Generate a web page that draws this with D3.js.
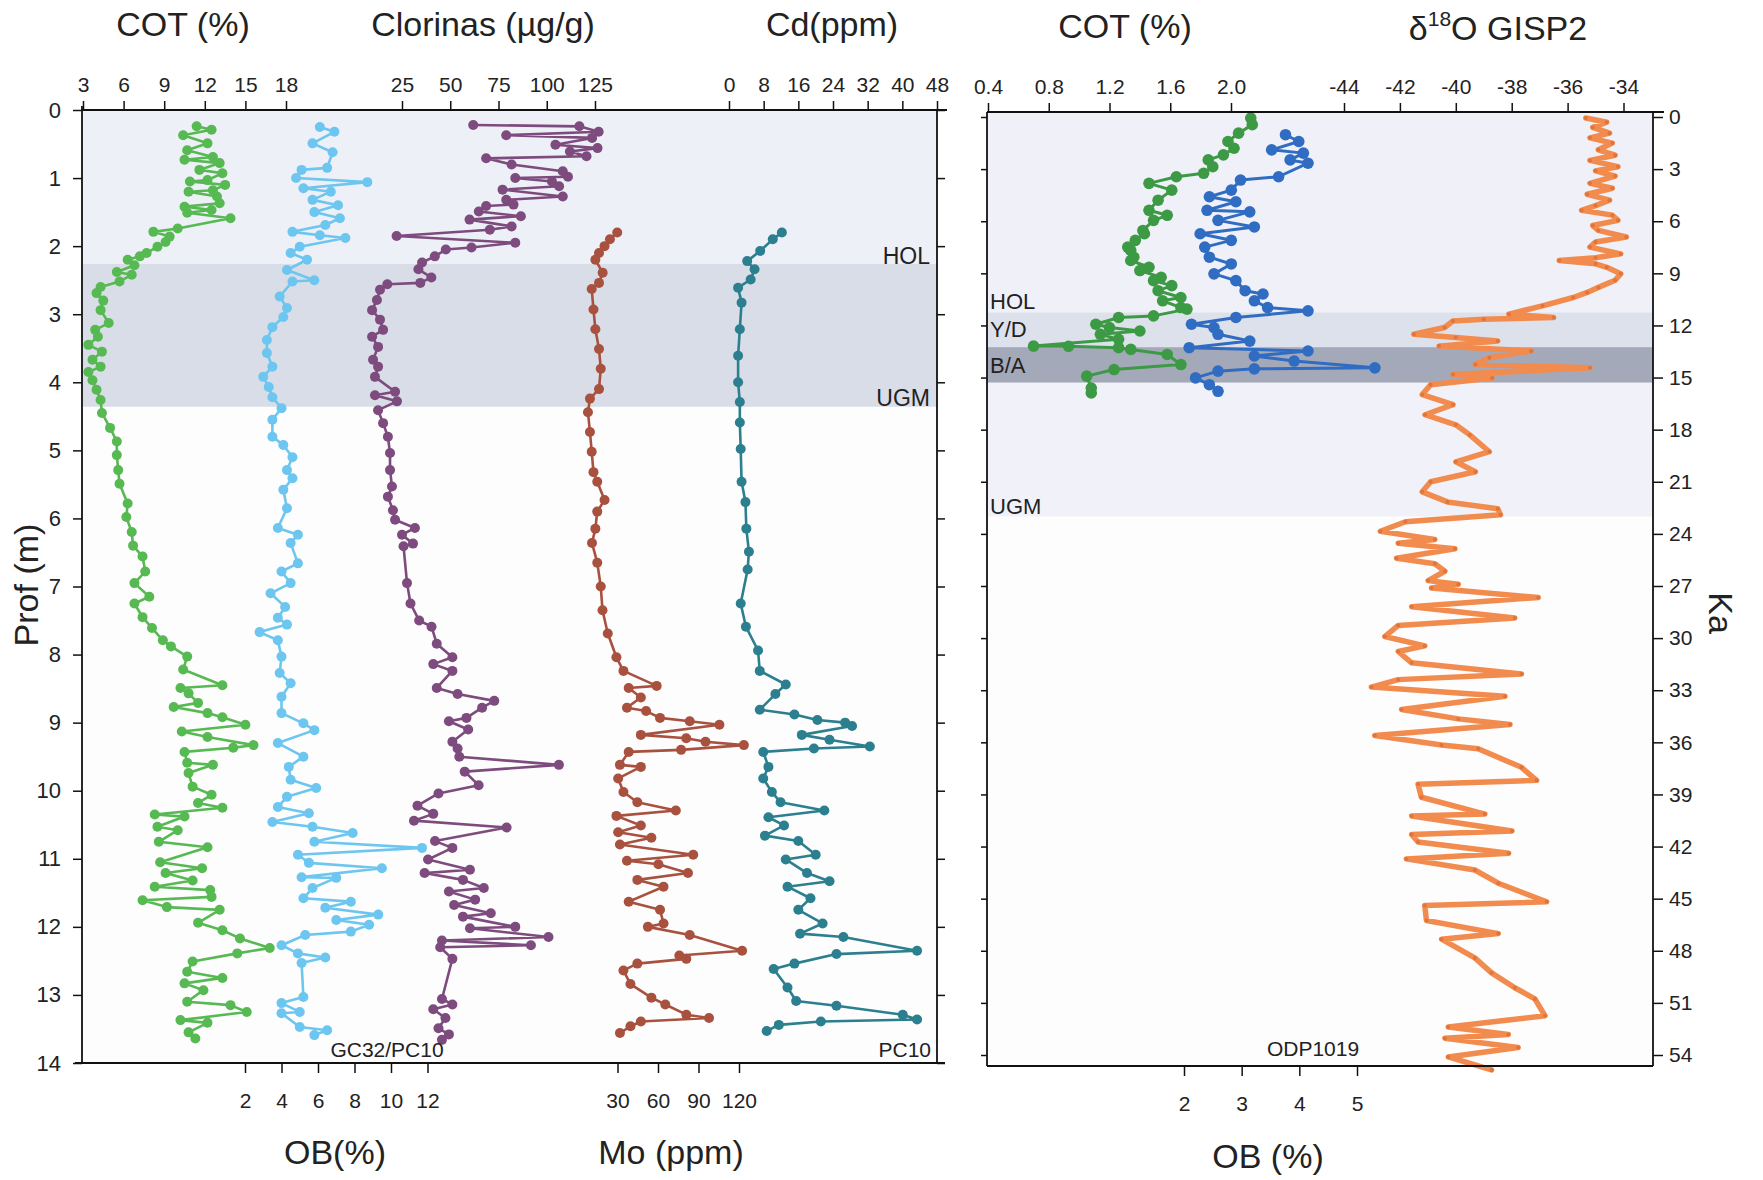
<!DOCTYPE html>
<html>
<head>
<meta charset="utf-8">
<script src="https://cdn.jsdelivr.net/npm/d3@7"></script>
<style>
  body { margin: 0; background: #fff; }
  svg text { font-family: "Liberation Sans", Arial, sans-serif; fill: #222; }
</style>
</head>
<body>
<svg id="chart" width="1763" height="1180"></svg>
<script>
// ---- GC32/PC10 core, values by depth (m) ----
const cotCore = [[0.24,11.4],[0.29,12.5],[0.37,10.4],[0.49,12.2],[0.59,10.7],[0.69,12.6],[0.73,10.5],[0.78,13.1],[0.88,11.6],[0.93,13.3],[1.03,12.2],[1.05,10.9],[1.10,13.5],[1.18,12.6],[1.2,10.8],[1.27,12.9],[1.37,13.1],[1.42,10.5],[1.47,12.5],[1.51,10.7],[1.59,13.9],[1.74,10.0],[1.79,8.2],[1.86,9.4],[1.94,9.1],[2.01,8.5],[2.10,7.7],[2.15,7.2],[2.2,6.3],[2.28,6.8],[2.38,5.5],[2.42,6.6],[2.52,5.7],[2.6,4.3],[2.69,4.0],[2.8,4.5],[2.94,4.3],[3.13,4.9],[3.23,3.9],[3.33,4.1],[3.45,3.4],[3.55,4.4],[3.67,3.7],[3.77,4.3],[3.85,3.4],[3.97,3.7],[4.11,4.0],[4.26,4.3],[4.45,4.4],[4.67,5.0],[4.87,5.5],[5.07,5.5],[5.29,5.6],[5.49,5.7],[5.78,6.3],[5.98,6.2],[6.2,6.6],[6.4,6.7],[6.56,7.4],[6.78,7.6],[6.95,6.8],[7.15,7.9],[7.25,6.8],[7.45,7.4],[7.61,8.1],[7.79,8.9],[7.88,9.5],[8.03,10.7],[8.22,10.4],[8.45,13.3],[8.49,10.2],[8.57,10.8],[8.71,11.5],[8.77,9.7],[8.86,12.2],[8.92,13.3],[9.03,15.0],[9.13,10.3],[9.21,12.2],[9.33,15.6],[9.37,14.1],[9.43,10.5],[9.59,10.7],[9.62,12.6],[9.74,10.8],[9.94,11.1],[10.06,12.5],[10.18,11.5],[10.25,13.3],[10.35,8.3],[10.38,10.5],[10.53,8.5],[10.58,10.0],[10.75,8.6],[10.83,12.2],[11.05,8.7],[11.14,11.8],[11.21,9.1],[11.32,11.1],[11.41,8.3],[11.46,12.4],[11.56,12.5],[11.61,7.4],[11.71,9.2],[11.75,13.1],[11.94,11.5],[12.05,13.3],[12.17,14.6],[12.31,16.8],[12.39,14.4],[12.51,11.1],[12.66,10.7],[12.75,13.3],[12.83,10.5],[12.93,11.9],[13.1,10.7],[13.15,13.9],[13.25,15.1],[13.37,10.2],[13.41,12.2],[13.55,10.8],[13.64,11.3]];

const obCore = [[0.25,6.1],[0.32,6.9],[0.49,5.7],[0.62,6.8],[0.85,6.5],[0.88,5.1],[1.0,4.8],[1.06,8.7],[1.15,5.2],[1.2,6.7],[1.32,5.7],[1.4,7.1],[1.5,5.8],[1.59,7.2],[1.69,6.4],[1.79,4.6],[1.84,6.1],[1.88,7.5],[2.01,5.0],[2.1,4.5],[2.2,5.4],[2.35,4.3],[2.5,5.8],[2.52,4.6],[2.74,3.9],[2.91,4.3],[3.04,4.1],[3.19,3.5],[3.38,3.2],[3.57,3.2],[3.77,3.5],[3.92,3.0],[4.07,3.3],[4.22,3.5],[4.38,4.0],[4.55,3.5],[4.8,3.5],[4.92,4.1],[5.1,4.6],[5.29,4.3],[5.41,4.6],[5.58,4.1],[5.85,4.3],[6.14,3.8],[6.24,4.9],[6.36,4.5],[6.66,4.9],[6.78,4.0],[6.95,4.5],[7.1,3.4],[7.3,4.2],[7.46,3.8],[7.56,4.3],[7.67,2.8],[7.79,3.8],[8.03,4.0],[8.27,3.9],[8.42,4.5],[8.62,4.0],[8.86,4.0],[9.01,5.2],[9.11,5.8],[9.3,3.8],[9.5,5.2],[9.65,4.4],[9.84,4.5],[9.96,5.9],[10.09,4.3],[10.24,3.8],[10.33,5.5],[10.46,3.5],[10.53,5.7],[10.62,7.9],[10.75,5.8],[10.84,11.7],[10.94,4.9],[11.06,5.5],[11.14,9.5],[11.27,5.1],[11.28,7.0],[11.43,5.7],[11.58,5.2],[11.63,7.8],[11.72,6.4],[11.82,9.3],[11.9,7.0],[11.97,8.8],[12.07,7.8],[12.12,5.3],[12.27,4.0],[12.39,4.9],[12.45,6.4],[12.53,5.1],[13.03,5.2],[13.12,4.0],[13.25,5.0],[13.27,4.0],[13.47,5.0],[13.52,6.5],[13.59,5.8]];

const clorinas = [[0.22,61.9],[0.24,116.9],[0.32,126.9],[0.37,79],[0.41,123.5],[0.51,104.5],[0.56,126.3],[0.61,112],[0.68,120.6],[0.71,68.6],[0.8,81.8],[0.9,108.3],[0.98,111],[1.0,83.7],[1.05,102.7],[1.12,106.4],[1.17,77.1],[1.27,108.3],[1.32,79],[1.39,82.8],[1.41,68.6],[1.49,64.8],[1.56,86.6],[1.61,60],[1.71,81.8],[1.76,70.5],[1.85,22.2],[1.95,83.7],[2.02,61],[2.05,47.7],[2.15,42],[2.24,35.4],[2.34,33.5],[2.46,40.2],[2.54,34.5],[2.56,17.4],[2.64,13.6],[2.79,12.0],[2.94,9.5],[3.08,13.6],[3.23,15.2],[3.33,9.5],[3.48,12.6],[3.67,10],[3.77,12.6],[3.92,11],[4.14,21.4],[4.19,11],[4.28,22.4],[4.41,12.6],[4.6,15.2],[4.8,17.7],[5.04,18.8],[5.29,18.8],[5.53,19.8],[5.68,17.7],[5.88,20.3],[6.02,21.4],[6.14,31.7],[6.24,25],[6.37,30.7],[6.41,25.8],[6.95,27.6],[7.25,29.4],[7.5,33.9],[7.59,40.3],[7.84,43],[8.04,51.1],[8.14,41.2],[8.24,51.1],[8.49,43],[8.58,53.8],[8.68,72.8],[8.78,66.5],[8.93,58.4],[8.98,49.3],[9.1,59.3],[9.28,51.1],[9.38,53.8],[9.5,54.7],[9.62,106.3],[9.72,57.5],[9.92,64.7],[10.04,43.9],[10.22,33],[10.34,41.2],[10.44,31.2],[10.54,79.2],[10.74,42.1],[10.84,51.1],[11.01,38.5],[11.16,60.2],[11.21,36.7],[11.31,56.6],[11.43,67.4],[11.48,49.3],[11.6,62.9],[11.68,52],[11.8,71],[11.85,56.6],[12.0,83.7],[12.02,60.2],[12.15,100.9],[12.2,45.7],[12.27,91.8],[12.3,44.8],[12.47,51.1],[13.06,45.7],[13.14,51.1],[13.21,41.2],[13.34,47.5],[13.49,43.9],[13.58,49.3],[13.66,45.7]];

const moCore = [[1.80,29.8],[1.9,24.4],[2.0,20.4],[2.1,16.3],[2.2,13.6],[2.39,19],[2.54,16.3],[2.63,10.9],[2.93,12.2],[3.22,13.6],[3.51,16.3],[3.8,17.6],[4.1,16.3],[4.24,9.6],[4.44,8.1],[4.73,9.6],[5.02,10.9],[5.32,12.2],[5.46,15],[5.73,20.4],[5.9,15],[6.15,13.6],[6.36,11.1],[6.65,15],[7.0,17.6],[7.35,18.9],[7.69,22.8],[8.04,29.2],[8.24,34.4],[8.46,59],[8.49,38.3],[8.63,47.3],[8.78,37],[8.83,51.2],[8.93,61.5],[8.98,83.5],[9.03,105.5],[9.18,47.3],[9.23,80.9],[9.28,95.2],[9.33,123.6],[9.4,77.1],[9.43,38.3],[9.62,31.8],[9.65,47.3],[9.82,30.5],[10.02,34.4],[10.17,44.7],[10.29,73.2],[10.37,29.2],[10.51,47.3],[10.61,30.5],[10.69,55.1],[10.79,31.8],[10.94,86.1],[11.03,37],[11.08,60.3],[11.21,82.2],[11.31,44.7],[11.41,64.1],[11.63,38.3],[11.75,61.5],[11.95,64.1],[12.0,52.5],[12.12,83.5],[12.35,122.3],[12.42,75.8],[12.47,81],[12.54,44.7],[12.64,34.4],[12.84,39.6],[13.04,55.1],[13.14,65.4],[13.29,81],[13.34,97.8],[13.39,47.3],[13.46,39.6],[13.56,31.8]];

const cdCore = [[1.8,12.2],[1.9,10.1],[2.07,7.2],[2.22,4.2],[2.34,5.9],[2.49,5],[2.61,2.1],[2.83,2.9],[3.22,2.5],[3.61,2.1],[4.0,2.1],[4.29,2.5],[4.59,2.5],[4.98,2.7],[5.46,2.9],[5.76,3.8],[6.15,4],[6.49,4.6],[6.75,4.3],[7.25,2.7],[7.59,3.9],[7.94,6.7],[8.24,7.1],[8.44,13.1],[8.58,10.7],[8.81,7.1],[8.88,15.1],[8.96,20.4],[9.0,26.8],[9.05,28.4],[9.18,16.8],[9.25,23.2],[9.35,32.5],[9.38,19.6],[9.43,7.9],[9.65,9.1],[9.82,7.9],[10.02,9.9],[10.17,11.9],[10.29,22],[10.39,9.1],[10.51,12.7],[10.66,8.3],[10.74,16],[10.94,20],[11.01,13.1],[11.21,18],[11.33,23.2],[11.41,13.5],[11.58,18.8],[11.75,16],[11.95,21.6],[12.1,16.4],[12.15,26.4],[12.35,43.4],[12.4,24.8],[12.54,15.1],[12.62,10.3],[12.89,13.5],[13.09,15.5],[13.16,24.8],[13.29,40.1],[13.36,43.4],[13.39,21.2],[13.44,11.5],[13.53,8.7]];

// ---- ODP1019 and GISP2, values by age (ka) ----
const cotOdp = [[0.06,2.13],[0.44,2.14],[0.93,2.05],[1.41,1.98],[1.8,2.02],[2.18,1.95],[2.47,1.85],[2.86,1.88],[3.24,1.82],[3.44,1.64],[3.82,1.46],[4.21,1.61],[4.79,1.52],[5.37,1.46],[5.66,1.58],[5.95,1.49],[6.53,1.42],[6.72,1.43],[7.1,1.37],[7.49,1.32],[7.68,1.34],[8.07,1.36],[8.26,1.34],[8.65,1.46],[8.84,1.40],[9.23,1.54],[9.42,1.49],[9.71,1.61],[10.0,1.52],[10.39,1.67],[10.58,1.55],[10.97,1.67],[11.06,1.71],[11.45,1.49],[11.54,1.26],[11.93,1.11],[12.12,1.20],[12.32,1.40],[12.51,1.14],[12.8,1.26],[13.19,0.70],[13.2,0.93],[13.28,1.26],[13.38,1.34],[13.67,1.58],[14.25,1.67],[14.54,1.23],[14.92,1.05],[15.6,1.08],[15.89,1.08]];

const obOdp = [[1.02,3.76],[1.41,3.99],[1.89,3.52],[2.08,4.07],[2.47,3.84],[2.66,4.15],[3.44,3.64],[3.63,2.98],[4.21,2.82],[4.59,2.44],[4.88,2.90],[5.37,2.40],[5.46,3.14],[5.95,2.59],[6.33,3.22],[6.72,2.28],[7.1,2.82],[7.49,2.36],[8.07,2.44],[8.46,2.82],[9.03,2.52],[9.42,2.90],[10.0,3.06],[10.19,3.37],[10.58,3.22],[10.97,3.45],[11.16,4.15],[11.54,2.90],[11.93,2.13],[12.12,2.52],[12.51,2.59],[12.9,3.14],[13.28,2.09],[13.47,4.15],[13.76,3.22],[14.05,3.91],[14.44,5.31],[14.5,3.22],[14.63,2.59],[15.02,2.20],[15.41,2.44],[15.79,2.59]];

const d18oGisp = [[0.06,-35.35],[0.3,-34.6],[0.6,-35.1],[0.93,-34.5],[1.2,-35.2],[1.5,-34.4],[1.89,-34.9],[2.2,-34.3],[2.5,-35.2],[2.86,-34.2],[3.1,-35.0],[3.4,-34.3],[3.82,-35.2],[4.1,-34.4],[4.45,-35.3],[4.79,-34.5],[5.1,-35.0],[5.37,-35.5],[5.65,-34.4],[5.95,-34.2],[6.25,-35.1],[6.53,-34.9],[6.91,-33.9],[7.2,-35.0],[7.49,-35.2],[7.88,-34.1],[8.1,-35.0],[8.26,-36.3],[8.45,-35.0],[8.65,-34.6],[9.03,-34.1],[9.4,-34.3],[9.81,-34.9],[10.1,-35.3],[10.39,-35.8],[10.87,-36.9],[11.35,-38.1],[11.54,-36.5],[11.64,-39.0],[11.74,-40.1],[12.12,-40.4],[12.51,-41.5],[12.7,-40.0],[12.9,-38.5],[13.19,-40.6],[13.47,-37.3],[13.86,-38.8],[14.25,-39.3],[14.44,-35.2],[14.83,-40.1],[15.02,-38.7],[15.41,-40.9],[15.98,-41.2],[16.56,-40.1],[17.14,-41.1],[17.72,-40.0],[18.3,-39.5],[19.27,-38.8],[19.85,-40.0],[20.42,-39.3],[21.0,-40.9],[21.58,-41.2],[22.16,-40.3],[22.55,-38.5],[22.9,-38.4],[23.3,-41.8],[23.85,-42.7],[24.32,-40.75],[24.54,-42.06],[24.86,-40.03],[25.4,-42.12],[25.72,-40.75],[26.15,-40.39],[26.69,-40.99],[26.9,-39.91],[27.12,-40.87],[27.66,-37.05],[28.19,-41.58],[28.84,-37.89],[29.27,-42.06],[29.91,-42.54],[30.45,-41.11],[30.77,-42.06],[31.42,-41.58],[32.06,-37.65],[32.39,-42.06],[32.82,-43.02],[33.35,-38.24],[34.11,-41.94],[34.65,-39.91],[34.97,-38.06],[35.61,-42.9],[36.15,-40.51],[36.37,-39.2],[37.44,-37.65],[38.19,-37.11],[38.41,-41.35],[39.16,-41.23],[40.13,-38.96],[40.24,-41.58],[41.1,-37.99],[41.31,-41.58],[41.74,-41.35],[42.39,-38.11],[42.71,-41.77],[43.35,-39.32],[44.11,-38.48],[45.18,-36.75],[45.4,-41.11],[46.26,-41.05],[47.01,-38.48],[47.33,-40.51],[48.41,-39.32],[49.27,-38.72],[50.13,-37.89],[50.77,-37.17],[51.74,-36.81],[52.39,-40.27],[52.82,-38.12],[53.03,-40.39],[53.57,-37.77],[54.11,-40.27],[54.86,-38.72]];

// ---- ticks ----
const depthTicks = d3.range(0, 15);
const kaTicks = d3.range(0, 55, 3);
const cotTicks = [3, 6, 9, 12, 15, 18];
const clorTicks = [25, 50, 75, 100, 125];
const cdTicks = [0, 8, 16, 24, 32, 40, 48];
const obTicks = [2, 4, 6, 8, 10, 12];
const moTicks = [30, 60, 90, 120];
const cotOdpTicks = [0.4, 0.8, 1.2, 1.6, 2.0];
const d18oTicks = [-44, -42, -40, -38, -36, -34];
const obOdpTicks = [2, 3, 4, 5];

// ---- bands ----
const coreBands = [{ from: 0, to: 2.26, fill: '#eef0f8' }, { from: 2.26, to: 4.36, fill: '#d9dde8' }];
const odpBands = [
  { from: 0, to: 11.25, fill: '#f0f1f8' },
  { from: 11.25, to: 13.25, fill: '#dde1eb' },
  { from: 13.25, to: 15.3, fill: '#a4a9b9' },
  { from: 15.3, to: 23.0, fill: '#f1f2f9' }
];

const FONT = '"Liberation Sans", Arial, sans-serif';
const plain = d => String(d);
const svg = d3.select('#chart');

// panels
const L = { x0: 82, x1: 937, y0: 110, y1: 1063 };
const R = { x0: 987, x1: 1653, y0: 112, y1: 1066 };

const yDepth = d3.scaleLinear().domain([0, 14]).range([L.y0, L.y1]);
const yKa = d3.scaleLinear().domain([0, 54]).range([117, 1055]);

const xCot = d3.scaleLinear().domain([3, 18]).range([83, 286]);
const xClor = d3.scaleLinear().domain([25, 125]).range([402, 595]);
const xCd = d3.scaleLinear().domain([0, 48]).range([729, 937]);
const xOb = d3.scaleLinear().domain([2, 12]).range([245, 427.5]);
const xMo = d3.scaleLinear().domain([30, 120]).range([617.5, 739]);

const xCotOdp = d3.scaleLinear().domain([0.4, 2.0]).range([988, 1231]);
const xD18o = d3.scaleLinear().domain([-44, -34]).range([1344, 1623.5]);
const xObOdp = d3.scaleLinear().domain([2, 5]).range([1184, 1357]);

// backgrounds
svg.append('rect').attr('x', L.x0).attr('y', L.y0).attr('width', L.x1 - L.x0).attr('height', L.y1 - L.y0).attr('fill', '#fdfdfe');
svg.selectAll('.cband').data(coreBands).join('rect')
  .attr('x', L.x0).attr('width', L.x1 - L.x0)
  .attr('y', d => yDepth(d.from)).attr('height', d => yDepth(d.to) - yDepth(d.from))
  .attr('fill', d => d.fill);

svg.append('rect').attr('x', R.x0).attr('y', R.y0).attr('width', R.x1 - R.x0).attr('height', R.y1 - R.y0).attr('fill', '#fdfdfe');
svg.selectAll('.oband').data(odpBands).join('rect')
  .attr('x', R.x0).attr('width', R.x1 - R.x0)
  .attr('y', d => d.from === 0 ? R.y0 : yKa(d.from)).attr('height', d => yKa(d.to) - (d.from === 0 ? R.y0 : yKa(d.from)))
  .attr('fill', d => d.fill);

// series
function drawSeries(data, x, y, color, r, w, dotColor) {
  const pts = data.slice().sort((a, b) => a[0] - b[0]);
  const line = d3.line().x(d => x(d[1])).y(d => y(d[0]));
  const g = svg.append('g');
  g.append('path').datum(pts).attr('d', line)
    .attr('fill', 'none').attr('stroke', color).attr('stroke-width', w)
    .attr('stroke-linejoin', 'round').attr('stroke-linecap', 'round');
  g.selectAll('circle').data(pts).join('circle')
    .attr('cx', d => x(d[1])).attr('cy', d => y(d[0])).attr('r', r)
    .attr('fill', dotColor || color);
}

drawSeries(cotCore, xCot, yDepth, '#57b952', 5, 2.6);
drawSeries(obCore, xOb, yDepth, '#6dc6ef', 5, 2.6);
drawSeries(clorinas, xClor, yDepth, '#7d4b7d', 5, 2.6);
drawSeries(moCore, xMo, yDepth, '#a9513f', 5, 2.6);
drawSeries(cdCore, xCd, yDepth, '#2b7f8e', 5, 2.6);

drawSeries(d18oGisp, xD18o, yKa, '#f28b4e', 2, 5.5, '#e0743a');
drawSeries(cotOdp, xCotOdp, yKa, '#3d9a44', 5.8, 3);
drawSeries(obOdp, xObOdp, yKa, '#2f6cc2', 5.8, 3);

// axes
function axis(gen, tx, ty, fs) {
  const g = svg.append('g').attr('transform', `translate(${tx},${ty})`).call(gen);
  g.attr('font-size', fs).attr('font-family', FONT);
  g.select('.domain').remove();
  g.selectAll('.tick line').attr('stroke', '#111').attr('stroke-width', 1.5);
  g.selectAll('.tick text').attr('fill', '#222');
  return g;
}

axis(d3.axisTop(xCot).tickValues(cotTicks).tickFormat(plain).tickSize(9).tickPadding(9), 0, L.y0, 21);
axis(d3.axisTop(xClor).tickValues(clorTicks).tickFormat(plain).tickSize(9).tickPadding(9), 0, L.y0, 21);
axis(d3.axisTop(xCd).tickValues(cdTicks).tickFormat(plain).tickSize(9).tickPadding(9), 0, L.y0, 21);
axis(d3.axisBottom(xOb).tickValues(obTicks).tickFormat(plain).tickSize(10).tickPadding(20), 0, L.y1, 21);
axis(d3.axisBottom(xMo).tickValues(moTicks).tickFormat(plain).tickSize(10).tickPadding(20), 0, L.y1, 21);
axis(d3.axisLeft(yDepth).tickValues(depthTicks).tickFormat(plain).tickSize(9).tickPadding(12), L.x0, 0, 22);
axis(d3.axisRight(yDepth).tickValues(depthTicks).tickSize(8).tickFormat(''), L.x1, 0, 20);

axis(d3.axisTop(xCotOdp).tickValues(cotOdpTicks).tickFormat(d3.format('.1f')).tickSize(9).tickPadding(9), 0, R.y0, 21);
axis(d3.axisTop(xD18o).tickValues(d18oTicks).tickFormat(plain).tickSize(9).tickPadding(9), 0, R.y0, 21);
axis(d3.axisBottom(xObOdp).tickValues(obOdpTicks).tickFormat(plain).tickSize(10).tickPadding(20), 0, R.y1, 21);
axis(d3.axisRight(yKa).tickValues(kaTicks).tickFormat(plain).tickSize(10).tickPadding(6), R.x1, 0, 21);
axis(d3.axisLeft(yKa).tickValues(kaTicks).tickSize(6).tickFormat(''), R.x0, 0, 20);

// frames
const frame = [
  [L.x0, L.y0, 947, L.y0], [75, L.y1, 945, L.y1], [L.x0, L.y0 - 4, L.x0, L.y1], [L.x1, L.y0, L.x1, L.y1],
  [R.x0, R.y0, 1664, R.y0], [R.x0, R.y1, R.x1, R.y1], [R.x0, R.y0, R.x0, R.y1], [R.x1, R.y0, R.x1, R.y1]
];
svg.selectAll('.frame').data(frame).join('line')
  .attr('x1', d => d[0]).attr('y1', d => d[1]).attr('x2', d => d[2]).attr('y2', d => d[3])
  .attr('stroke', '#111').attr('stroke-width', 1.8);

// labels
function label(txt, x, y, size, anchor) {
  return svg.append('text').attr('x', x).attr('y', y).attr('font-size', size)
    .attr('text-anchor', anchor || 'middle').text(txt);
}

label('COT (%)', 183, 36, 34);
label('Clorinas (µg/g)', 483, 36, 34);
label('Cd(ppm)', 832, 36, 34);
label('COT (%)', 1125, 38, 34);
const dt = label('δ', 1498, 40, 34);
dt.append('tspan').attr('font-size', 21).attr('dy', -14).text('18');
dt.append('tspan').attr('dy', 14).text('O GISP2');

label('OB(%)', 335, 1164, 34);
label('Mo (ppm)', 671, 1164, 34);
label('OB (%)', 1268, 1168, 34);

svg.append('text').attr('transform', 'translate(38,585) rotate(-90)')
  .attr('font-size', 34).attr('text-anchor', 'middle').text('Prof (m)');
svg.append('text').attr('transform', 'translate(1709,613) rotate(90)')
  .attr('font-size', 34).attr('text-anchor', 'middle').text('Ka');

label('HOL', 930, 264, 23, 'end');
label('UGM', 930, 406, 23, 'end');
label('GC32/PC10', 387, 1057, 21);
label('PC10', 931, 1057, 21, 'end');

label('HOL', 990, 309, 22, 'start');
label('Y/D', 990, 337, 22, 'start');
label('B/A', 990, 373, 22, 'start');
label('UGM', 990, 514, 22, 'start');
label('ODP1019', 1313, 1056, 21);
</script>
</body>
</html>
